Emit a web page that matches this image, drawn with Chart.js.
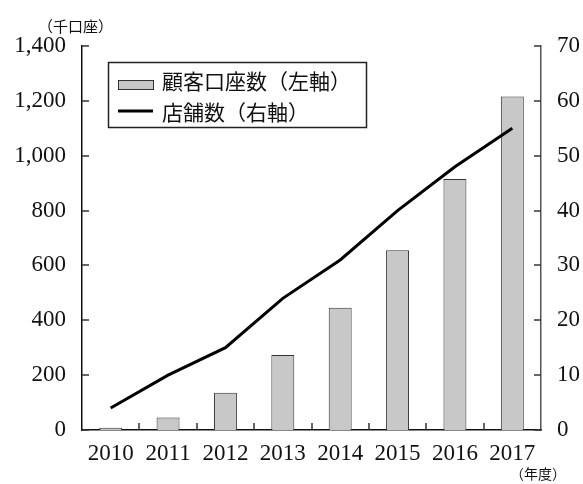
<!DOCTYPE html>
<html>
<head>
<meta charset="utf-8">
<script src="https://cdn.jsdelivr.net/npm/chart.js@4.4.0/dist/chart.umd.min.js"></script>
<style>
  html, body { margin: 0; padding: 0; background: #fff; }
</style>
</head>
<body>
<canvas id="chart-accounts" width="583" height="484"></canvas>
<script>
const years = ["2010", "2011", "2012", "2013", "2014", "2015", "2016", "2017"];
const accountValues = [8, 46, 136, 273, 446, 655, 915, 1216];
const storeValues = [4, 10, 15, 24, 31, 40, 48, 55];
const accountLabel = "顧客口座数（左軸）";
const storeLabel = "店舗数（右軸）";
const leftUnit = "（千口座）";
const bottomUnit = "（年度）";

const numFont = "'Liberation Serif', 'DejaVu Serif', serif";
const jpFont = "'Noto Sans CJK JP', sans-serif";

// inward tick marks, units and the boxed legend inside the plot
const decorations = {
  id: "decorations",
  afterDraw(chart) {
    const ctx = chart.ctx;
    const area = chart.chartArea;
    const yl = chart.scales.yLeft;
    const yr = chart.scales.yRight;

    ctx.save();
    ctx.lineWidth = 1.5;
    ctx.strokeStyle = "#333";
    yl.ticks.forEach(t => {
      const py = Math.round(yl.getPixelForValue(t.value));
      ctx.beginPath();
      ctx.moveTo(area.left, py);
      ctx.lineTo(area.left + 7, py);
      ctx.stroke();
    });
    yr.ticks.forEach(t => {
      const py = Math.round(yr.getPixelForValue(t.value));
      ctx.beginPath();
      ctx.moveTo(area.right, py);
      ctx.lineTo(area.right - 7, py);
      ctx.stroke();
    });
    const step = (area.right - area.left) / years.length;
    for (let i = 1; i < years.length; i++) {
      const px = Math.round(area.left + step * i);
      ctx.beginPath();
      ctx.moveTo(px, area.bottom);
      ctx.lineTo(px, area.bottom - 7);
      ctx.stroke();
    }

    // unit captions
    ctx.fillStyle = "#111";
    ctx.font = "15px " + jpFont;
    ctx.textBaseline = "middle";
    ctx.textAlign = "left";
    ctx.fillText(leftUnit, 38, 26);
    ctx.font = "14px " + jpFont;
    ctx.fillText(bottomUnit, 510, 474);

    // legend
    const lx = 108, ly = 62, lw = 258, lh = 65;
    ctx.fillStyle = "#fff";
    ctx.fillRect(lx, ly, lw, lh);
    ctx.strokeStyle = "#222";
    ctx.lineWidth = 1.5;
    ctx.strokeRect(lx + 0.5, ly + 0.5, lw, lh);

    ctx.fillStyle = "#c8c8c8";
    ctx.fillRect(118, 80, 35, 9);
    ctx.strokeStyle = "#333";
    ctx.lineWidth = 1;
    ctx.strokeRect(118.5, 80.5, 35, 9);

    ctx.strokeStyle = "#000";
    ctx.lineWidth = 3;
    ctx.beginPath();
    ctx.moveTo(118, 111);
    ctx.lineTo(153, 111);
    ctx.stroke();

    const byType = t => chart.data.datasets.find(d => d.type === t).label;
    ctx.fillStyle = "#111";
    ctx.font = "21px " + jpFont;
    ctx.fillText(byType("bar"), 162, 81);
    ctx.fillText(byType("line"), 162, 112);
    ctx.restore();
  }
};

const ctx = document.getElementById("chart-accounts").getContext("2d");

new Chart(ctx, {
  data: {
    labels: years,
    datasets: [
      {
        type: "line",
        label: storeLabel,
        data: storeValues,
        yAxisID: "yRight",
        borderColor: "#000",
        borderWidth: 3,
        pointRadius: 0,
        tension: 0,
        order: 0,
      },
      {
        type: "bar",
        label: accountLabel,
        data: accountValues,
        yAxisID: "yLeft",
        backgroundColor: "#c8c8c8",
        borderColor: "#333",
        borderWidth: 1,
        barPercentage: 0.4,
        categoryPercentage: 1,
        order: 1,
      },
    ],
  },
  options: {
    responsive: false,
    animation: false,
    layout: {
      padding: { top: 46, right: 0, bottom: 0, left: 0 },
    },
    plugins: {
      legend: { display: false },
      tooltip: { enabled: false },
    },
    scales: {
      x: {
        offset: true,
        grid: { display: false, drawTicks: false },
        border: { display: true, color: "#111", width: 1.5 },
        ticks: {
          color: "#111",
          font: { family: numFont, size: 23 },
          padding: 10,
          maxRotation: 0,
        },
        afterFit(scale) { scale.height = 54; },
      },
      yLeft: {
        position: "left",
        min: 0,
        max: 1400,
        grid: { display: false, drawTicks: false },
        border: { display: true, color: "#111", width: 1.5 },
        ticks: {
          stepSize: 200,
          color: "#111",
          padding: 16,
          font: { family: numFont, size: 23 },
          callback: v => v.toLocaleString("en-US"),
        },
        afterFit(scale) { scale.width = 82; },
      },
      yRight: {
        position: "right",
        min: 0,
        max: 70,
        grid: { display: false, drawTicks: false },
        border: { display: true, color: "#555", width: 1.5 },
        ticks: {
          stepSize: 10,
          color: "#111",
          padding: 16,
          font: { family: numFont, size: 23 },
        },
        afterFit(scale) { scale.width = 42; },
      },
    },
  },
  plugins: [decorations],
});
</script>
</body>
</html>
